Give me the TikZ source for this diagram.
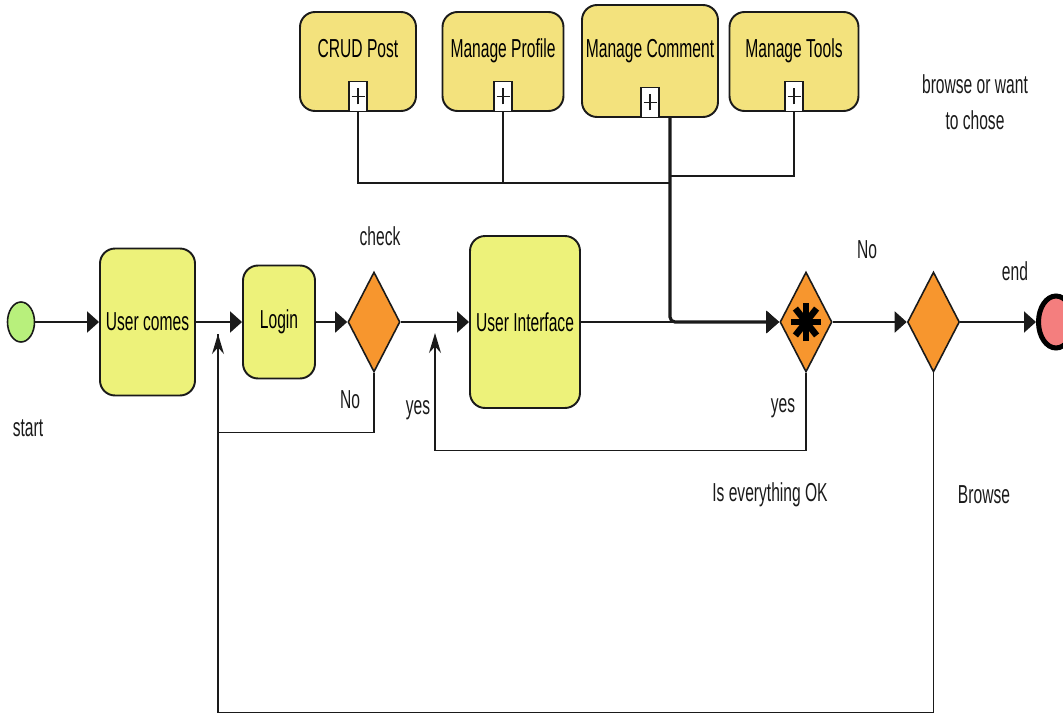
\documentclass[tikz,border=0pt]{standalone}
\usepackage{fontspec}
\setmainfont{Liberation Sans}[FakeStretch=0.6]
\usepackage{xcolor}
\definecolor{cTask}{HTML}{EDF27A}
\definecolor{cSub}{HTML}{F3E27D}
\definecolor{cGate}{HTML}{F7962E}
\definecolor{cStart}{HTML}{B8F07C}
\definecolor{cEnd}{HTML}{F47E7E}
\definecolor{cLine}{HTML}{1A1A1A}
\usetikzlibrary{positioning,arrows.meta,shapes.geometric,calc}
\newcommand{\flowfont}{\fontsize{14.8}{20.4}\selectfont}
\tikzset{
  node-task/.style={draw=cLine,line width=1.1pt,rounded corners=0.3cm,
    fill=cTask,align=center,font=\flowfont,inner sep=0pt},
  node-sub/.style={draw=cLine,line width=1.1pt,rounded corners=0.3cm,
    fill=cSub,align=center,font=\flowfont,inner sep=0pt,
    minimum height=1.98cm,text height=0.37cm,text depth=0.52cm},
  node-plus/.style={draw=cLine,line width=0.8pt,fill=white,inner sep=0pt,
    minimum width=0.36cm,minimum height=0.6cm,
    path picture={
      \draw[line width=0.8pt] ([xshift=-0.13cm]path picture bounding box.center)
        -- ([xshift=0.13cm]path picture bounding box.center);
      \draw[line width=0.8pt] ([yshift=-0.16cm]path picture bounding box.center)
        -- ([yshift=0.16cm]path picture bounding box.center);}},
  node-gate/.style={draw=cLine,line width=0.9pt,diamond,fill=cGate,
    inner sep=0pt,minimum width=1.04cm,minimum height=2cm},
  node-start/.style={draw=cLine,line width=0.9pt,ellipse,fill=cStart,
    inner sep=0pt,minimum width=0.54cm,minimum height=0.8cm},
  node-end/.style={draw=black,line width=0.1cm,ellipse,fill=cEnd,
    inner sep=0pt,minimum width=0.7cm,minimum height=1.04cm},
  node-label/.style={font=\flowfont,text=cLine,align=center,inner sep=0pt},
  arrow-flow/.style={-{Triangle[length=2.4mm,width=4.2mm]},line width=1.1pt,draw=cLine},
  arrow-main/.style={-{Triangle[length=2.6mm,width=4.4mm]},line width=1.8pt,
    draw=cLine,rounded corners=0.1cm},
  arrow-back/.style={-{Stealth[length=4mm,width=2.4mm]},line width=0.8pt,draw=cLine},
  link/.style={line width=0.8pt,draw=cLine},
}

\begin{document}
\begin{tikzpicture}[x=0.02cm,y=-0.02cm]
  \useasboundingbox (0,0) rectangle (1063,714);
  % sub-processes on top
  \node[node-sub,minimum width=2.32cm] (crud) at (358,61.5) {CRUD Post};
  \node[node-sub,minimum width=2.42cm] (profile) at (503,61.5) {Manage Profile};
  \node[node-sub,minimum width=2.72cm,minimum height=2.24cm] (comment) at (650,61) {Manage Comment};
  \node[node-sub,minimum width=2.58cm] (tools) at (794,61.5) {Manage Tools};
  \node[node-plus,anchor=south] (crudplus) at (crud.south) {};
  \node[node-plus,anchor=south] (profileplus) at (profile.south) {};
  \node[node-plus,anchor=south] (commentplus) at (comment.south) {};
  \node[node-plus,anchor=south] (toolsplus) at (tools.south) {};
  % main flow
  \node[node-start] (start) at (21,322) {};
  \node[node-task,minimum width=1.9cm,minimum height=2.94cm] (comes) at (147.5,322) {User comes};
  \node[node-task,minimum width=1.44cm,minimum height=2.26cm] (login) at (279,322) {Login};
  \node[node-gate] (check) at (374,322) {};
  \node[node-task,minimum width=2.2cm,minimum height=3.44cm] (ui) at (525,322) {User Interface};
  \node[node-gate] (okgate) at (806,322) {};
  \node[node-gate] (browse) at (933.5,322) {};
  \node[node-end] (stop) at (1056,322) {};
  \foreach \a in {0,45,90,135}
    \draw[line width=0.13cm,black] ([shift={(\a:15 and 19)}]okgate.center)
      -- ([shift={(\a+180:15 and 19)}]okgate.center);
  % labels
  \node[node-label] (startlbl) at (28,428) {start};
  \node[node-label] (checklbl) at (380,236) {check};
  \node[node-label] (nolbl) at (350,400) {No};
  \node[node-label] (yeslbl) at (418,410) {yes};
  \node[node-label] (okyeslbl) at (783,408) {yes};
  \node[node-label] (oknolbl) at (867,250) {No};
  \node[node-label] (endlbl) at (1015,271) {end};
  \node[node-label] (oklbl) at (770,495) {Is everything OK};
  \node[node-label] (browselbl) at (984,495) {Browse};
  \node[node-label] (chooselbl) at (975,102) {browse or want\\to chose};
  % connectors
  \coordinate (subjoin) at (670,183);
  \coordinate (toolsjoin) at (670,176);
  \coordinate (backlogin) at (218,334);
  \coordinate (backui) at (435,333);
  \draw[link] (crudplus.south) |- (subjoin);
  \draw[link] (profileplus.south) -- (profileplus.south |- subjoin);
  \draw[link] (toolsplus.south) |- (toolsjoin);
  \draw[arrow-flow] (start) -- (comes);
  \draw[arrow-flow] (comes) -- (login);
  \draw[arrow-flow] (login) -- (check);
  \draw[arrow-flow] (check) -- (ui);
  \draw[arrow-flow] (ui) -- (okgate);
  \draw[arrow-main] ([xshift=0.4cm]comment.south) |- (okgate.west);
  \draw[arrow-flow] (okgate) -- (browse);
  \draw[arrow-flow] (browse) -- (stop);
  \draw[arrow-back] (check.south) -- ++(0,60) -| (backlogin);
  \draw[arrow-back] (okgate.south) -- ++(0,78) -| (backui);
  \draw[link] (browse.south) -- ++(0,340) -| (backlogin);
\end{tikzpicture}
\end{document}
